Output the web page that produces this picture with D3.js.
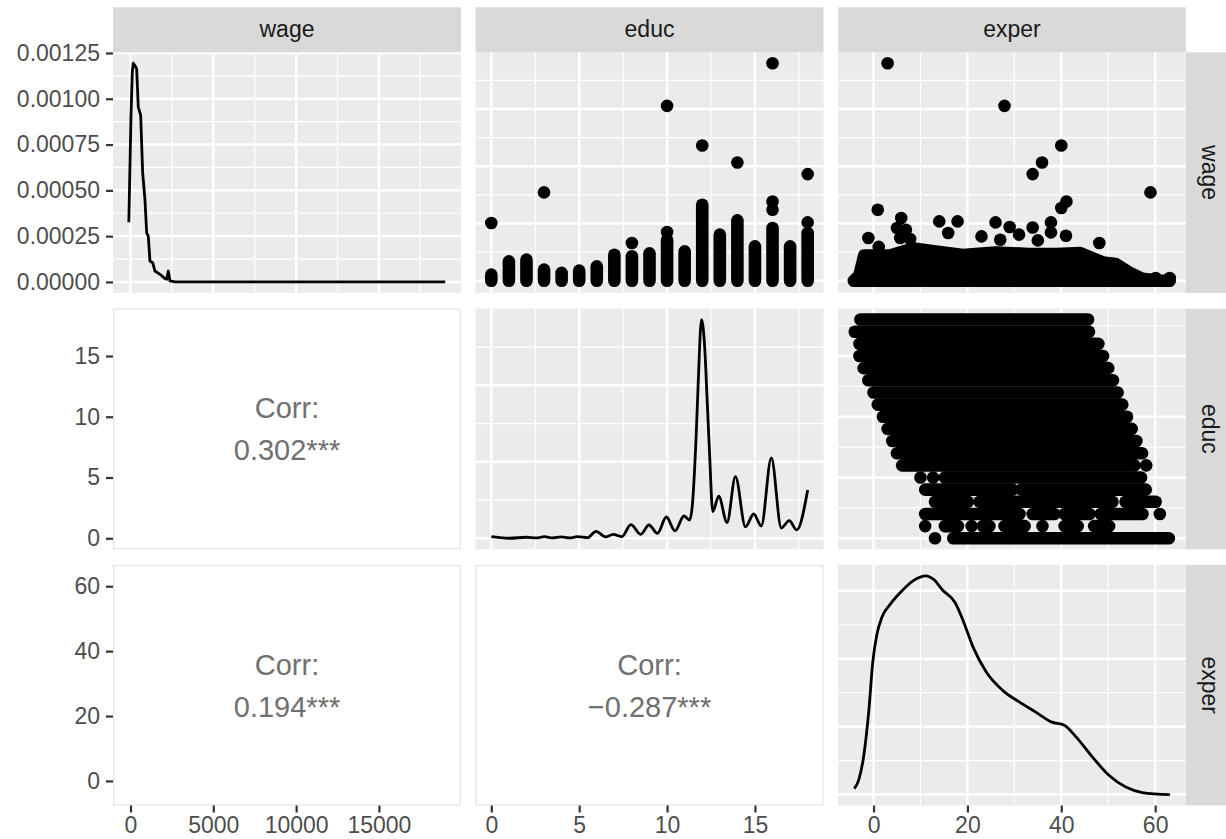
<!DOCTYPE html>
<html>
<head>
<meta charset="utf-8">
<script src="https://cdn.jsdelivr.net/npm/d3@7"></script>
<style>
  body { margin: 0; background: #fff; }
  text { font-family: "Liberation Sans", Arial, Helvetica, sans-serif; }
</style>
</head>
<body>
<div id="chart"></div>
<script>
// variables shown in the pairs plot
var varNames = ['wage', 'educ', 'exper'];

// data ranges of each variable
var wageRange = [-100, 19000];
var educRange = [0, 18];
var experRange = [-4.2, 63.2];

// axis ticks
var wageTicks = [0, 5000, 10000, 15000];
var educTicks = [0, 5, 10, 15];
var experTicks = [0, 20, 40, 60];
var wageDensTicks = [0, 0.00025, 0.0005, 0.00075, 0.001, 0.00125];
var educDensTicks = [0, 0.2, 0.4];
var experDensTicks = [0, 0.01, 0.02, 0.03];

// kernel density estimates [value, density]
var wageDensity = [
  [-100, 0.000326], [30, 0.000901], [109, 0.001145], [169, 0.001194], [272, 0.001181],
  [374, 0.001163], [471, 0.000955], [616, 0.000910], [737, 0.000594], [875, 0.000449],
  [978, 0.000268], [1075, 0.000250], [1177, 0.000114], [1340, 0.000105], [1479, 0.0000597],
  [1781, 0.0000418], [2083, 0.0000185], [2186, 0.0000147], [2282, 0.0000597], [2385, 0.0000054],
  [2687, 0], [19000, 0]
];
var educDensity = [
  [0, 0.0043], [0.47, 0.0017], [1.04, 0], [1.98, 0.0026], [2.55, 0.0008], [3.02, 0.0043],
  [3.49, 0.0008], [3.97, 0.0034], [4.44, 0.0008], [4.91, 0.0043], [5.48, 0.0017], [5.95, 0.0182],
  [6.52, 0.0034], [6.93, 0.0104], [7.43, 0.0043], [7.94, 0.0356], [8.5, 0.0104], [8.97, 0.0347],
  [9.45, 0.013], [9.96, 0.0556], [10.45, 0.0191], [10.96, 0.0582], [11.28, 0.0478], [11.43, 0.0826],
  [11.66, 0.274], [11.77, 0.405], [11.96, 0.572], [12.15, 0.492], [12.28, 0.361], [12.41, 0.23],
  [12.6, 0.07], [12.94, 0.11], [13.41, 0.041], [13.89, 0.161], [14.46, 0.03], [14.93, 0.0635],
  [15.36, 0.0321], [15.93, 0.21], [16.5, 0.0269], [16.95, 0.0461], [17.38, 0.0217], [18, 0.126]
];
var experDensity = [
  [-4.1, 0.00088], [-3.18, 0.0021], [-2.12, 0.00553], [-1.06, 0.0119], [-0.13, 0.0197],
  [0.72, 0.0236], [1.78, 0.0261], [3.54, 0.028], [5.66, 0.0297], [8.48, 0.0315], [11.18, 0.0322],
  [12.73, 0.0317], [14.85, 0.03], [17.33, 0.0283], [19.09, 0.0256], [21.21, 0.0217], [24.05, 0.018],
  [27.57, 0.0153], [31.11, 0.0136], [34.65, 0.0121], [37.84, 0.0107], [40.66, 0.0102], [43.14, 0.0085],
  [46.66, 0.0055], [50.2, 0.0028], [53.74, 0.0011], [57.26, 0.0003], [63.14, 0]
];

// wage vs educ: highest wage of the dense stack at each educ level, and points above it
var educStacks = [
  [0, 540], [1, 1700], [2, 1850], [3, 980], [4, 690], [5, 890], [6, 1260], [7, 2280], [8, 2140],
  [9, 2400], [10, 3590], [11, 2570], [12, 6640], [13, 4030], [14, 5280], [15, 3010], [16, 4610],
  [17, 3010], [18, 4180]
];
var wageEducPts = [
  [0, 5050], [3, 7720], [8, 3300], [10, 4260], [10, 15280], [12, 11810], [14, 10330],
  [16, 6210], [16, 6930], [16, 19000], [18, 5100], [18, 9320]
];

// wage vs exper: upper edge of the dense cloud, and scattered points above it
var wageExperTop = [
  [-4.2, 0], [-3.0, 500], [-2.0, 2200], [3.5, 2200], [8.5, 2830], [12, 2630], [19, 2260],
  [26, 2480], [33, 2340], [39, 2340], [44, 2430], [48.8, 1610], [51.6, 1470], [54.4, 740],
  [57.3, 170], [60.8, 0], [63.1, 0]
];
var wageExperPts = [
  [3.0, 19000], [27.9, 15280], [40.0, 11810], [35.9, 10330], [33.9, 9320], [59.0, 7720],
  [0.9, 6210], [41.1, 6930], [40.0, 6360], [5.9, 5480], [14.0, 5190], [17.9, 5190], [26.0, 5100],
  [5.0, 4610], [6.9, 4460], [15.9, 4180], [29.0, 4700], [31.0, 4030], [33.9, 4660], [37.8, 5100],
  [37.8, 4230], [41.0, 3940], [23.0, 3880], [48.1, 3300], [5.7, 3740], [-1.1, 3740], [1.1, 2960],
  [7.8, 3650], [35.0, 3530], [27.0, 3590], [60.1, 250], [63.1, 250]
];

// educ vs exper: runs of exper values present at each educ level [educ, from, to]
var educExperRuns = [
  [18, -2.8, 45.7], [17, -4.0, 45.9], [16, -3.0, 47.9], [15, -3.0, 48.9], [14, -2.1, 50],
  [13, -1.1, 51], [12, 0, 52], [11, 0.9, 53], [10, 2, 54], [9, 3, 55], [8, 4, 56], [7, 5, 57.2],
  [6, 6.1, 55.6], [6, 58.1, 58.1],
  [5, 10, 10], [5, 12.7, 12.7], [5, 15.2, 57],
  [4, 11, 29.6], [4, 31.5, 58],
  [3, 13.1, 20.1], [3, 22.6, 50.9], [3, 53.7, 60.1],
  [2, 11, 31.1], [2, 33.9, 38.5], [2, 40.7, 46], [2, 48.4, 57.3], [2, 61, 61],
  [1, 11, 11], [1, 15.2, 18], [1, 20.9, 20.9], [1, 23.3, 24.7], [1, 27.9, 32.2], [1, 36, 36],
  [1, 40.7, 43.5], [1, 47, 50.2],
  [0, 13.1, 13.1], [0, 17, 62.9]
];

// correlations in the lower triangle
var corrCells = [
  { row: 1, col: 0, label: '0.302***' },
  { row: 2, col: 0, label: '0.194***' },
  { row: 2, col: 1, label: '\u22120.287***' }
];

var width = 1226, height = 839;
var colLeft = [113, 475.5, 838], pw = 348;
var rowTop = [52.3, 308.6, 564.9], ph = 240.6;
var stripSize = 45;
var r = 6.3;

var svg = d3.select('#chart').append('svg')
  .attr('width', width)
  .attr('height', height);

function expand(ext) {
  var pad = (ext[1] - ext[0]) * 0.05;
  return [ext[0] - pad, ext[1] + pad];
}

var ranges = { wage: wageRange, educ: educRange, exper: experRange };
var ticks = { wage: wageTicks, educ: educTicks, exper: experTicks };

function xScale(v, col) {
  return d3.scaleLinear().domain(expand(ranges[v])).range([colLeft[col], colLeft[col] + pw]);
}
function yScale(v, row) {
  return d3.scaleLinear().domain(expand(ranges[v])).range([rowTop[row] + ph, rowTop[row]]);
}
function densScale(data, row) {
  return d3.scaleLinear()
    .domain(expand([0, d3.max(data, function(d) { return d[1]; })]))
    .range([rowTop[row] + ph, rowTop[row]]);
}

function minors(t, dom) {
  var s = t[1] - t[0];
  var m = t.map(function(v) { return v - s / 2; }).concat([t[t.length - 1] + s / 2]);
  return m.filter(function(v) { return v > dom[0] && v < dom[1]; });
}

// grey panel with white grid
function panel(row, col, x, y, xt, yt) {
  var g = svg.append('g');
  var x0 = colLeft[col], y0 = rowTop[row];
  g.append('rect').attr('x', x0).attr('y', y0).attr('width', pw).attr('height', ph)
    .attr('fill', '#ebebeb');
  var xd = x.domain(), yd = y.domain();
  g.selectAll('.vminor').data(minors(xt, xd)).enter().append('line')
    .attr('x1', x).attr('x2', x).attr('y1', y0).attr('y2', y0 + ph)
    .attr('stroke', '#fff').attr('stroke-width', 1.2);
  g.selectAll('.hminor').data(minors(yt, yd)).enter().append('line')
    .attr('y1', y).attr('y2', y).attr('x1', x0).attr('x2', x0 + pw)
    .attr('stroke', '#fff').attr('stroke-width', 1.2);
  g.selectAll('.vmajor').data(xt).enter().append('line')
    .attr('x1', x).attr('x2', x).attr('y1', y0).attr('y2', y0 + ph)
    .attr('stroke', '#fff').attr('stroke-width', 2.4);
  g.selectAll('.hmajor').data(yt).enter().append('line')
    .attr('y1', y).attr('y2', y).attr('x1', x0).attr('x2', x0 + pw)
    .attr('stroke', '#fff').attr('stroke-width', 2.4);

  var id = 'clip' + row + col;
  svg.append('clipPath').attr('id', id).append('rect')
    .attr('x', x0).attr('y', y0).attr('width', pw).attr('height', ph);
  return g.append('g').attr('clip-path', 'url(#' + id + ')');
}

function densityPanel(i, data, dt) {
  var v = varNames[i];
  var x = xScale(v, i);
  var y = densScale(data, i);
  var g = panel(i, i, x, y, ticks[v], dt);
  var line = d3.line()
    .x(function(d) { return x(d[0]); })
    .y(function(d) { return y(d[1]); })
    .curve(i === 0 ? d3.curveLinear : d3.curveMonotoneX);
  g.append('path').datum(data).attr('d', line)
    .attr('fill', 'none').attr('stroke', '#000').attr('stroke-width', 2.8)
    .attr('stroke-linejoin', 'round');
  return y;
}

var wageDensY = densityPanel(0, wageDensity, wageDensTicks);
densityPanel(1, educDensity, educDensTicks);
densityPanel(2, experDensity, experDensTicks);

// row 1, col 2: wage vs educ
(function() {
  var x = xScale('educ', 1), y = yScale('wage', 0);
  var g = panel(0, 1, x, y, educTicks, wageTicks);
  g.selectAll('.stack').data(educStacks).enter().append('line')
    .attr('x1', function(d) { return x(d[0]); })
    .attr('x2', function(d) { return x(d[0]); })
    .attr('y1', y(0))
    .attr('y2', function(d) { return y(d[1]); })
    .attr('stroke', '#000').attr('stroke-width', 2 * r).attr('stroke-linecap', 'round');
  g.selectAll('.pt').data(wageEducPts).enter().append('circle')
    .attr('cx', function(d) { return x(d[0]); })
    .attr('cy', function(d) { return y(d[1]); })
    .attr('r', r).attr('fill', '#000');
})();

// row 1, col 3: wage vs exper
(function() {
  var x = xScale('exper', 2), y = yScale('wage', 0);
  var g = panel(0, 2, x, y, experTicks, wageTicks);
  var area = d3.area()
    .x(function(d) { return x(d[0]); })
    .y0(y(0))
    .y1(function(d) { return y(d[1]); });
  g.append('path').datum(wageExperTop).attr('d', area)
    .attr('fill', '#000').attr('stroke', '#000').attr('stroke-width', 2 * r)
    .attr('stroke-linejoin', 'round');
  g.selectAll('.pt').data(wageExperPts).enter().append('circle')
    .attr('cx', function(d) { return x(d[0]); })
    .attr('cy', function(d) { return y(d[1]); })
    .attr('r', r).attr('fill', '#000');
})();

// row 2, col 3: educ vs exper
(function() {
  var x = xScale('exper', 2), y = yScale('educ', 1);
  var g = panel(1, 2, x, y, experTicks, educTicks);
  g.selectAll('.run').data(educExperRuns).enter().append('line')
    .attr('x1', function(d) { return x(d[1]); })
    .attr('x2', function(d) { return x(d[2]); })
    .attr('y1', function(d) { return y(d[0]); })
    .attr('y2', function(d) { return y(d[0]); })
    .attr('stroke', '#000').attr('stroke-width', 2 * r).attr('stroke-linecap', 'round');
})();

// correlation panels
corrCells.forEach(function(c) {
  var x0 = colLeft[c.col], y0 = rowTop[c.row];
  svg.append('rect').attr('x', x0 + 0.6).attr('y', y0 + 0.6)
    .attr('width', pw - 1.2).attr('height', ph - 1.2)
    .attr('fill', '#fff').attr('stroke', '#e4e4e4').attr('stroke-width', 1.2);
  var cx = x0 + pw / 2, cy = y0 + ph / 2;
  [['Corr:', -21], [c.label, 21]].forEach(function(t) {
    svg.append('text').attr('x', cx).attr('y', cy + t[1]).attr('dy', '0.36em')
      .attr('text-anchor', 'middle').attr('font-size', 29).attr('fill', '#707070')
      .text(t[0]);
  });
});

// strips
varNames.forEach(function(v, i) {
  svg.append('rect').attr('x', colLeft[i]).attr('y', rowTop[0] - stripSize)
    .attr('width', pw).attr('height', stripSize).attr('fill', '#d9d9d9');
  svg.append('text').attr('x', colLeft[i] + pw / 2).attr('y', rowTop[0] - stripSize / 2)
    .attr('dy', '0.3em').attr('text-anchor', 'middle').attr('font-size', 23)
    .attr('fill', '#1a1a1a').text(v);
  var sx = colLeft[2] + pw;
  svg.append('rect').attr('x', sx).attr('y', rowTop[i])
    .attr('width', stripSize).attr('height', ph).attr('fill', '#d9d9d9');
  svg.append('text')
    .attr('transform', 'translate(' + (sx + stripSize / 2) + ',' + (rowTop[i] + ph / 2) + ') rotate(90)')
    .attr('dy', '0.3em').attr('text-anchor', 'middle').attr('font-size', 23)
    .attr('fill', '#1a1a1a').text(v);
});

// axes
function styleAxis(g) {
  g.select('.domain').remove();
  g.selectAll('.tick line').attr('stroke', '#333').attr('stroke-width', 2.2);
  g.selectAll('.tick text').attr('fill', '#4d4d4d').attr('font-size', 23)
    .attr('font-family', '"Liberation Sans", Arial, sans-serif');
}

svg.append('g').attr('transform', 'translate(' + colLeft[0] + ',0)')
  .call(d3.axisLeft(wageDensY).tickValues(wageDensTicks).tickFormat(d3.format('.5f'))
    .tickSize(7).tickPadding(6))
  .call(styleAxis);
svg.append('g').attr('transform', 'translate(' + colLeft[0] + ',0)')
  .call(d3.axisLeft(yScale('educ', 1)).tickValues(educTicks).tickFormat(d3.format('d'))
    .tickSize(7).tickPadding(6))
  .call(styleAxis);
svg.append('g').attr('transform', 'translate(' + colLeft[0] + ',0)')
  .call(d3.axisLeft(yScale('exper', 2)).tickValues(experTicks).tickFormat(d3.format('d'))
    .tickSize(7).tickPadding(6))
  .call(styleAxis);

varNames.forEach(function(v, i) {
  svg.append('g').attr('transform', 'translate(0,' + (rowTop[2] + ph) + ')')
    .call(d3.axisBottom(xScale(v, i)).tickValues(ticks[v]).tickFormat(d3.format('d'))
      .tickSize(7).tickPadding(4.5))
    .call(styleAxis);
});
</script>
</body>
</html>
